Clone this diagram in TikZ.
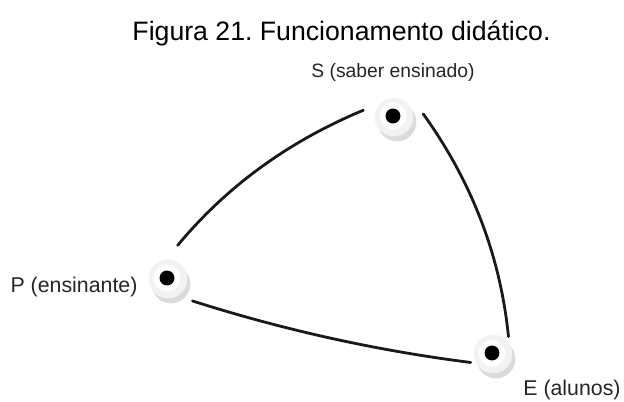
\documentclass[tikz,border=0pt]{standalone}
\usepackage{fontspec}
\setmainfont{Liberation Sans}
\usetikzlibrary{calc}
\frenchspacing
\begin{document}
\begin{tikzpicture}[x=0.75pt,y=-0.75pt,
  anchorpt/.style={circle,inner sep=0pt,minimum size=#1*1.5pt},
  link/.style={line width=2.1pt,line cap=round,black!90},
  lbl/.style={font=\fontsize{14.5}{17}\selectfont,text=black!85,anchor=base,inner sep=0pt},
  lblbig/.style={lbl,font=\fontsize{16}{19}\selectfont},
  ttl/.style={font=\fontsize{20}{24}\selectfont,anchor=base,inner sep=0pt}]
\useasboundingbox (0,0) rectangle (624,401);
\node[ttl] (title) at (341.5,40) {Figura 21. Funcionamento didático.};
% vertex anchors
\node[anchorpt=30] (S) at (393,116) {};
\node[anchorpt=34] (P) at (167,278) {};
\node[anchorpt=23] (E) at (492,353) {};
% discs
\foreach \n in {S,P,E}{
  \fill[gray!28] ([shift={(4,6)}]\n.center) circle[radius=14.5pt];
  \fill[gray!10] ([shift={(1,1)}]\n.center) circle[radius=14.5pt];
  \fill[white] (\n.center) circle[radius=10pt];
  \fill[black] (\n.center) circle[radius=5.6pt];
}
\node[lbl] (Sl) at (393,77) {S (saber ensinado)};
\node[lblbig] (Pl) at (74,292) {P (ensinante)};
\node[lblbig] (El) at (572,395) {E (alunos)};
% connectors (quadratic arcs)
\coordinate (qSP) at (251,157);
\coordinate (qSE) at (496.3,215.6);
\coordinate (qPE) at (329.9,344.7);
\draw[link] (P.72) .. controls ($(P.72)!0.6667!(qSP)$) and ($(S.169)!0.6667!(qSP)$) .. (S.169);
\draw[link] (S.4) .. controls ($(S.4)!0.6667!(qSE)$) and ($(E.45)!0.6667!(qSE)$) .. (E.45);
\draw[link] (P.-42) .. controls ($(P.-42)!0.6667!(qPE)$) and ($(E.204)!0.6667!(qPE)$) .. (E.204);
\end{tikzpicture}
\end{document}
